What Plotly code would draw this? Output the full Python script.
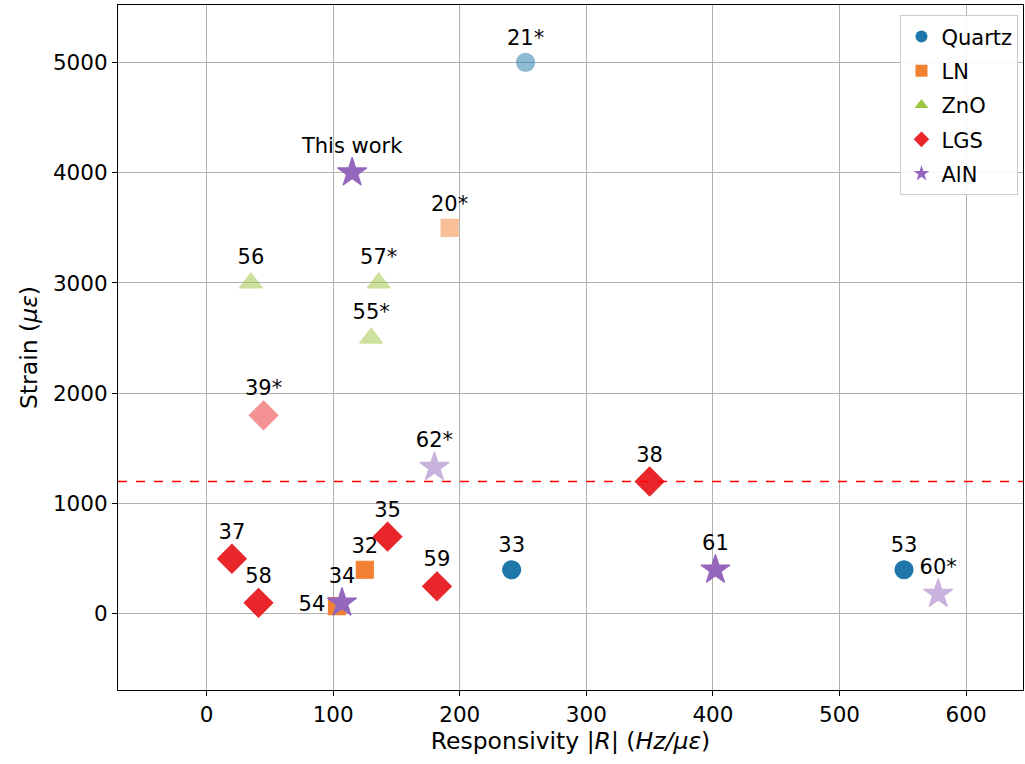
import plotly.graph_objects as go

# Responsivity |R| (Hz/µε) vs. strain (µε) for SAW strain sensors by substrate
materials = ["Quartz", "LN", "ZnO", "LGS", "AlN"]

quartz_r = [252, 241, 551]
quartz_s = [5000, 400, 400]
quartz_ref = ["21*", "33", "53"]
quartz_faded = [True, False, False]

ln_r = [192, 125, 103]
ln_s = [3500, 400, 70]
ln_ref = ["20*", "32", "54"]
ln_faded = [True, False, False]

zno_r = [35, 136, 130]
zno_s = [3000, 3000, 2500]
zno_ref = ["56", "57*", "55*"]
zno_faded = [True, True, True]

lgs_r = [45, 350, 20, 41, 143, 182]
lgs_s = [1800, 1200, 500, 100, 700, 250]
lgs_ref = ["39*", "38", "37", "58", "35", "59"]
lgs_faded = [True, False, False, False, False, False]

aln_r = [115, 180, 107, 402, 578]
aln_s = [4000, 1330, 100, 400, 180]
aln_ref = ["This work", "62*", "34", "61", "60*"]
aln_faded = [False, True, False, False, True]

strain_limit = 1200

colors = {
    "Quartz": "#1f77a9",
    "LN": "#f28033",
    "ZnO": "#9dc43f",
    "LGS": "#e8262b",
    "AlN": "#9467bd",
}
symbols = {
    "Quartz": "circle",
    "LN": "square",
    "ZnO": "triangle-up",
    "LGS": "diamond",
    "AlN": "star",
}
sizes = {"Quartz": 18, "LN": 17, "ZnO": 20, "LGS": 22, "AlN": 22}

series = {
    "Quartz": (quartz_r, quartz_s, quartz_ref, quartz_faded),
    "LN": (ln_r, ln_s, ln_ref, ln_faded),
    "ZnO": (zno_r, zno_s, zno_ref, zno_faded),
    "LGS": (lgs_r, lgs_s, lgs_ref, lgs_faded),
    "AlN": (aln_r, aln_s, aln_ref, aln_faded),
}

FONT = "DejaVu Sans"

fig = go.Figure()

for m in materials:
    xs, ys, refs, faded = series[m]
    op = [0.5 if f else 1.0 for f in faded]
    pos = ["middle left" if r == "54" else "top center" for r in refs]
    fig.add_trace(go.Scatter(
        x=xs, y=ys, mode="markers+text", text=refs, textposition=pos,
        textfont=dict(family=FONT, size=21, color="black"),
        marker=dict(symbol=symbols[m], size=sizes[m], color=colors[m],
                    opacity=op, line=dict(width=1.2, color=colors[m])),
        showlegend=False, cliponaxis=False,
    ))

# legend entries at full opacity
for m in materials:
    fig.add_trace(go.Scatter(
        x=[None], y=[None], mode="markers", name=m, legendgroup=m,
        marker=dict(symbol=symbols[m], size=16, color=colors[m]),
    ))

fig.add_shape(type="line", xref="paper", yref="y", x0=0, x1=1,
              y0=strain_limit, y1=strain_limit,
              line=dict(color="red", width=1.3, dash="dash"))

axis_common = dict(
    showgrid=True, gridcolor="#b0b0b0", gridwidth=1,
    showline=True, linecolor="black", linewidth=1.2, mirror=True,
    ticks="outside", ticklen=5, tickcolor="black",
    tickfont=dict(family=FONT, size=21.5, color="black"),
    zeroline=False,
)

fig.update_xaxes(range=[-70, 645], tickvals=[0, 100, 200, 300, 400, 500, 600],
                 title=dict(text="Responsivity |<i>R</i>| (<i>Hz/με</i>)",
                            font=dict(family=FONT, size=23.5, color="black"),
                            standoff=6),
                 **axis_common)
fig.update_yaxes(range=[-690, 5520], tickvals=[0, 1000, 2000, 3000, 4000, 5000],
                 title=dict(text="Strain (<i>με</i>)",
                            font=dict(family=FONT, size=23.5, color="black"),
                            standoff=8),
                 **axis_common)

fig.update_layout(
    width=1025, height=764,
    margin=dict(l=118, r=2, t=5, b=74),
    plot_bgcolor="white", paper_bgcolor="white",
    legend=dict(x=0.995, y=0.985, xanchor="right", yanchor="top",
                bgcolor="rgba(255,255,255,0.9)", bordercolor="#cccccc", borderwidth=1,
                font=dict(family=FONT, size=21, color="black"),
                itemsizing="constant", tracegroupgap=4),
)

fig.write_html("out.html")
